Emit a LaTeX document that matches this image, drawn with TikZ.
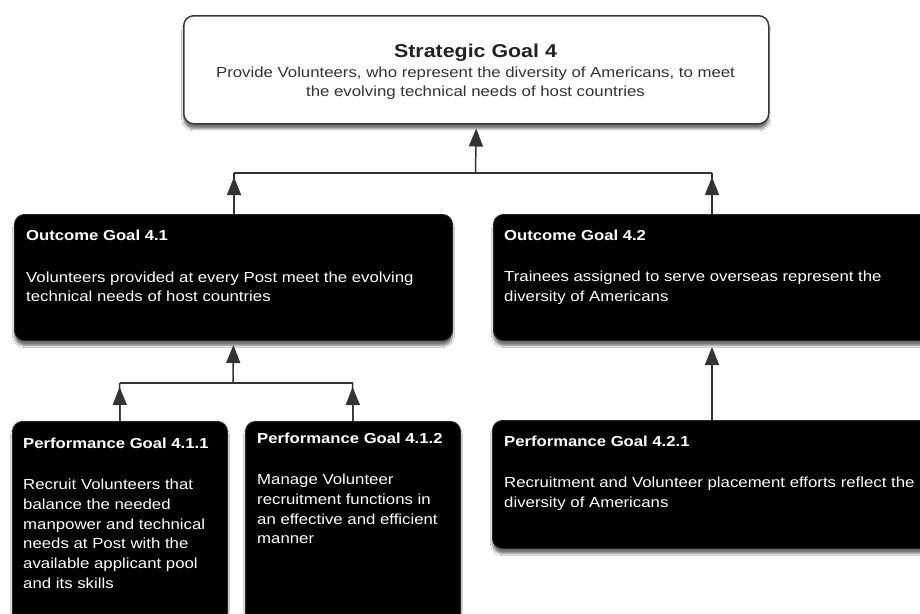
\documentclass[tikz,border=0pt]{standalone}
\usepackage{fontspec}
\setmainfont{Liberation Sans}[FakeStretch=1.15]
\usetikzlibrary{arrows.meta,shadows.blur,calc}
\definecolor{linecol}{HTML}{333333}
\definecolor{topborder}{HTML}{3A3A3A}
\definecolor{toptext}{HTML}{222222}
\begin{document}
\begin{tikzpicture}[x=1pt,y=-1pt,
  conn/.style={draw=linecol, line width=1.5pt},
  arr/.style={conn, -{Triangle[width=14pt,length=18pt]}},
  boxshadow/.style={blur shadow={shadow xshift=0pt, shadow yshift=-5pt, shadow opacity=55, shadow blur steps=8}},
  darkbox/.style={rectangle, rounded corners=10pt, fill=black, draw=black!85, line width=1pt, anchor=north west, inner sep=0pt, boxshadow},
  whitebox/.style={rectangle, rounded corners=10pt, fill=white, draw=topborder, line width=1.5pt, anchor=north west, inner sep=0pt, boxshadow},
  wtitle/.style={text=white, font=\bfseries\fontsize{14.5}{19.5}\selectfont, anchor=base west, inner sep=0pt},
  wbody/.style={text=white, font=\fontsize{14.6}{19.8}\selectfont, align=left, anchor=north west, inner sep=0pt},
  bigtitle/.style={text=toptext, font=\bfseries\fontsize{18.6}{22}\selectfont, anchor=base, inner sep=0pt},
  topbody/.style={text=linecol, font=\fontsize{14.6}{19.5}\selectfont, align=center, anchor=north, inner sep=0pt}
]
\useasboundingbox (0,0) rectangle (920,613);
\fill[white] (0,0) rectangle (920,613);
\clip (0,0) rectangle (920,613);

% boxes
\node[whitebox, minimum width=585pt, minimum height=108pt] (top) at (183,15) {};
\node[darkbox, minimum width=438pt, minimum height=126pt] (o41) at (14,214) {};
\node[darkbox, minimum width=470pt, minimum height=126pt] (o42) at (493,214) {};
\node[darkbox, minimum width=215pt, minimum height=230pt] (p411) at (12,421) {};
\node[darkbox, minimum width=215pt, minimum height=230pt] (p412) at (245,421) {};
\node[darkbox, minimum width=470pt, minimum height=128pt] (p421) at (492,420) {};

% texts
\node[bigtitle] (ttitle) at (475.5,57) {Strategic Goal 4};
\node[topbody] (tbody) at (475.5,66.5) {Provide Volunteers, who represent the diversity of Americans, to meet\\the evolving technical needs of host countries};

\node[wtitle] (o41t) at (26,240) {Outcome Goal 4.1};
\node[wbody] (o41b) at (26,271.3) {Volunteers provided at every Post meet the evolving\\technical needs of host countries};

\node[wtitle] (o42t) at (504,240.5) {Outcome Goal 4.2};
\node[wbody] (o42b) at (504,270.8) {Trainees assigned to serve overseas represent the\\diversity of Americans};

\node[wtitle] (p411t) at (23,448) {Performance Goal 4.1.1};
\node[wbody] (p411b) at (23,478.8) {Recruit Volunteers that\\balance the needed\\manpower and technical\\needs at Post with the\\available applicant pool\\and its skills};

\node[wtitle] (p412t) at (257,443) {Performance Goal 4.1.2};
\node[wbody] (p412b) at (257,473.8) {Manage Volunteer\\recruitment functions in\\an effective and efficient\\manner};

\node[wtitle] (p421t) at (504,446.7) {Performance Goal 4.2.1};
\node[wbody] (p421b) at (504,476.8) {Recruitment and Volunteer placement efforts reflect the\\diversity of Americans};

% connectors, upper level
\coordinate (j41) at (234,173);
\coordinate (jtop) at (475.5,173);
\coordinate (j42) at (712,173);
\draw[conn] (j41) -- (j42);
\draw[arr, shorten >=4pt] (jtop) -- (top.south);
\draw[conn] (j41 |- o41.north) -- (j41);
\draw[arr, shorten >=4pt] (j41 |- o41.north) -- (j41);
\draw[conn] (j42 |- o42.north) -- (j42);
\draw[arr, shorten >=4pt] (j42 |- o42.north) -- (j42);

% connectors, lower left
\coordinate (j411) at (119.5,383);
\coordinate (jo41) at (233,383);
\coordinate (j412) at (352.5,383);
\draw[conn] (j411) -- (j412);
\draw[arr, shorten >=4pt] (jo41) -- (o41.south);
\draw[conn] (p411.north) -- (j411);
\draw[arr, shorten >=4pt] (p411.north) -- (j411);
\draw[conn] (p412.north) -- (j412);
\draw[arr, shorten >=4pt] (p412.north) -- (j412);

% connector, lower right
\draw[arr, shorten >=6pt] (j42 |- p421.north) -- (j42 |- o42.south);
\end{tikzpicture}
\end{document}
